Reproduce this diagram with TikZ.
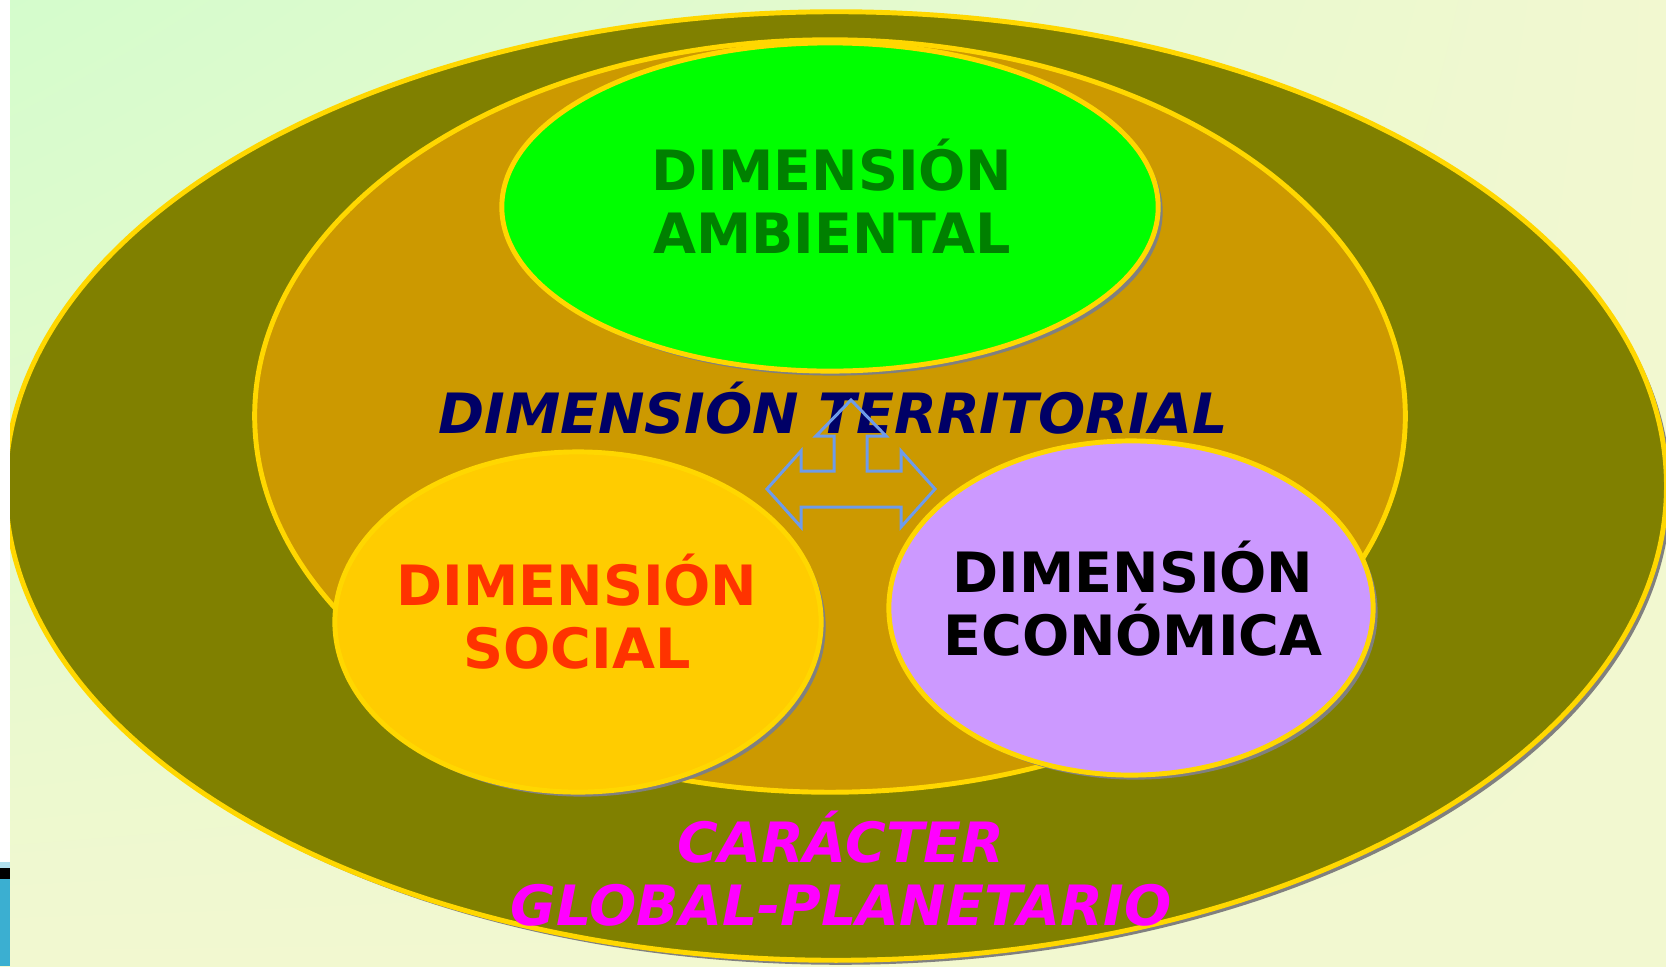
\documentclass[tikz,border=0pt]{standalone}
\usepackage{fontspec}
\setmainfont{DejaVu Sans}
\usetikzlibrary{shapes.geometric,shadows,shadings}
\definecolor{fondoverde}{HTML}{D4FCCC}
\definecolor{fondoamarillo}{HTML}{F2F8D0}
\definecolor{oliva}{HTML}{808000}
\definecolor{ocre}{HTML}{CC9900}
\definecolor{borde}{HTML}{FFD700}
\definecolor{verdevivo}{HTML}{00FF00}
\definecolor{verdeoscuro}{HTML}{008000}
\definecolor{amarillo}{HTML}{FFCC00}
\definecolor{rojizo}{HTML}{FF3300}
\definecolor{lila}{HTML}{CC99FF}
\definecolor{marino}{HTML}{000066}
\definecolor{fucsia}{HTML}{FF00FF}
\definecolor{flecha}{HTML}{6E9BEA}
\definecolor{celeste}{HTML}{3BAFD1}
\tikzset{
  dimension/.style={ellipse,draw=borde,line width=1.4pt,inner sep=0pt},
  sombra/.style={drop shadow={shadow xshift=0.045cm,shadow yshift=-0.045cm,fill=gray,opacity=1}},
  texto/.style={align=center,inner sep=0pt,font=\fontsize{15.8pt}{17.9pt}\selectfont\bfseries},
  rotulo/.style={texto,font=\fontsize{15.8pt}{17.9pt}\selectfont\bfseries\itshape}
}
\begin{document}
\begin{tikzpicture}[x=0.01cm,y=-0.01cm]
\useasboundingbox (0,0) rectangle (1666,966);
\shade[upper left=fondoverde,upper right=fondoamarillo,lower left=fondoamarillo,lower right=fondoamarillo] (0,0) rectangle (1666,966);
\node[dimension,sombra,fill=oliva,minimum width=16.6cm,minimum height=9.48cm] (global) at (836,486) {};
\fill[white] (0,0) rectangle (10,966);
\fill[celeste!40] (0,862) rectangle (10,868);
\fill[black] (0,868) rectangle (10,879);
\fill[celeste] (0,879) rectangle (10,966);
\node[dimension,fill=ocre,minimum width=11.5cm,minimum height=7.52cm] (territorial) at (830,416) {};
\node[dimension,sombra,fill=verdevivo,minimum width=6.56cm,minimum height=3.28cm] (ambiental) at (830,207) {};
\node[dimension,sombra,fill=amarillo,minimum width=4.86cm,minimum height=3.4cm] (social) at (578,622) {};
\node[dimension,sombra,fill=lila,minimum width=4.84cm,minimum height=3.34cm] (economica) at (1131,608) {};
\node[texto,text=verdeoscuro] (nambiental) at (832,196) {DIMENSIÓN\\AMBIENTAL};
\node[texto,text=rojizo] (nsocial) at (577,612) {DIMENSIÓN\\SOCIAL};
\node[texto,text=black] (neconomica) at (1133,599) {DIMENSIÓN\\ECONÓMICA};
\node[rotulo,text=marino] (nterritorial) at (833,408) {DIMENSIÓN TERRITORIAL};
\node[rotulo,text=fucsia] (caracter) at (841,869) {CARÁCTER\\GLOBAL-PLANETARIO};
\draw[flecha,line width=0.85pt,line join=miter] (851,400) -- (886,436) -- (867,436) -- (867,471) -- (901,471) -- (901,451) -- (935,489) -- (901,527) -- (901,507) -- (801,507) -- (801,527) -- (767,489) -- (801,451) -- (801,471) -- (834,471) -- (834,436) -- (816,436) -- cycle;
\end{tikzpicture}
\end{document}
